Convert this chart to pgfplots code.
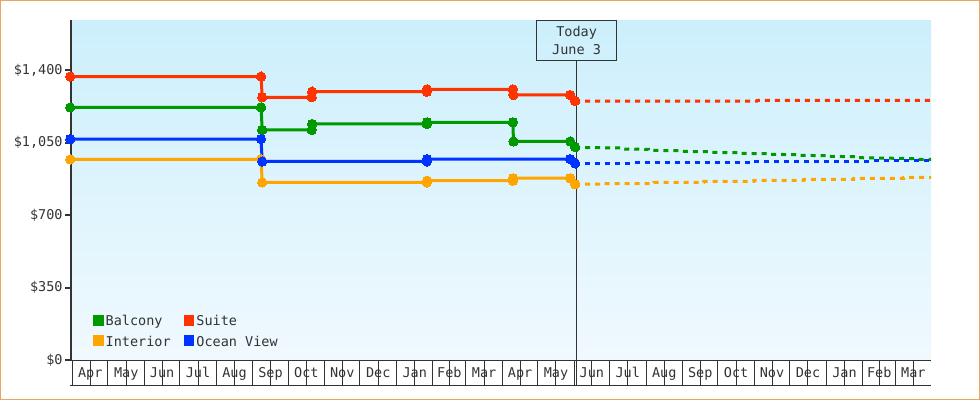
\documentclass[border=0pt]{standalone}
\usepackage{pgfplots}
\pgfplotsset{compat=1.18}
\usepackage{fontspec}
\setmainfont{DejaVu Sans Mono}
\definecolor{suite}{HTML}{FF3300}
\definecolor{balcony}{HTML}{009900}
\definecolor{ocean}{HTML}{0033FF}
\definecolor{interior}{HTML}{FFA500}
\definecolor{axisgray}{HTML}{333333}
\definecolor{bgtop}{HTML}{CCEFFC}
\definecolor{bgbot}{HTML}{F0F9FE}
\definecolor{bordercol}{HTML}{E8A65F}
\newcommand\f{\fontsize{13.5pt}{16pt}\selectfont}
\begin{document}
\begin{tikzpicture}
\useasboundingbox (0,0) rectangle (980pt,400pt);
\fill[white] (0,0) rectangle (980pt,400pt);
\draw[bordercol, line width=1pt] (0.5pt,0.5pt) rectangle (979.5pt,399.5pt);
\begin{axis}[
  at={(71pt,39.7pt)}, anchor=south west,
  scale only axis, width=860pt, height=340.3pt,
  xmin=-1.4, xmax=729, ymin=0, ymax=1643,
  clip=false,
  axis x line*=bottom, axis y line*=left,
  axis line style={-},
  x axis line style={draw=axisgray, line width=1pt},
  y axis line style={draw=axisgray, line width=2pt},
  axis background/.style={top color=bgtop, bottom color=bgbot},
  tick align=outside,
  xtick={0,30,61,91,122,153,183,214,244,275,306,334,365,395,426,456,487,518,548,579,609,640,671,699},
  xticklabels={},
  xtick style={draw=axisgray, line width=1pt, /pgfplots/major tick length=24.7pt},
  extra x ticks={15,45.5,76,106.5,137.5,168,198.5,229,259.5,290.5,320,349.5,380,410.5,441,471.5,502.5,533,563.5,594,624.5,655.5,685,714},
  extra x tick labels={Apr,May,Jun,Jul,Aug,Sep,Oct,Nov,Dec,Jan,Feb,Mar,Apr,May,Jun,Jul,Aug,Sep,Oct,Nov,Dec,Jan,Feb,Mar},
  extra x tick style={tick style={draw=none}, /pgfplots/major tick length=0pt,
     xticklabel style={anchor=base, yshift=-17.5pt, inner sep=0pt}},
  ytick={0,350,700,1050,1400},
  yticklabels={\$0,\$350,\$700,{\$1,050},{\$1,400}},
  ytick style={draw=axisgray, line width=2pt, /pgfplots/major tick length=6pt},
  yticklabel style={inner sep=0pt, xshift=-4pt},
  tick label style={font=\f, text=axisgray},
  legend columns=2,
  legend image code/.code={\fill[#1] (0pt,-3.7pt) rectangle (10.7pt,7pt);},
  legend style={draw=none, fill=none, inner sep=0pt, outer sep=0pt,
     at={(rel axis cs:0.02558,0.13312)}, anchor=north west,
     font=\f, text=axisgray, row sep=6.3pt, column sep=0pt,
     nodes={inner sep=0pt, text height=10.7pt, text depth=3pt},
     /tikz/every odd column/.append style={column sep=2pt},
     /tikz/every even column/.append style={column sep=13pt}},
  legend cell align=left,
  every axis plot/.append style={line width=3pt},
  mk/.style={mark=*, mark size=4.7pt, mark options={solid, line width=0pt}},
]
% today marker
\draw[axisgray, line width=1pt] ([yshift=-40pt]axis cs:428,1643) -- ([yshift=-24.7pt]axis cs:428,0);
\node[draw=axisgray, line width=1pt, inner sep=0pt, minimum width=79.6pt, minimum height=40pt,
      anchor=north, align=center, font=\fontsize{13.5pt}{17.6pt}\selectfont, text=axisgray]
      at (axis cs:428,1643) {Today\\June 3};
% bottom line of month cells
\draw[axisgray, line width=1pt] ([xshift=-1pt,yshift=-24.7pt]rel axis cs:0,0) -- ([yshift=-24.7pt]rel axis cs:1,0);

% forecasts (dashed)
\addplot[forget plot, interior, dash pattern=on 5pt off 5pt] coordinates {
(426.8,850)(450.9,850)(451,853)(493.4,853)(493.5,859)(535.9,859)(536,864)(578.4,864)(578.5,869)
(620.8,869)(620.9,874)(663.3,874)(663.4,878.5)(705.8,878.5)(705.9,883)(729,883)};
\addplot[forget plot, balcony, dash pattern=on 5pt off 5pt] coordinates {
(426.8,1028)(467.9,1025)(468,1020)(489,1018.5)(489.1,1013.6)(514.6,1012)(514.7,1008.8)(540,1007)(540.1,1004)
(565.6,1002.4)(565.7,999)(591,997.6)(591.1,994.4)(616.6,992.8)(616.7,989.5)(642,988)(642.1,984.7)
(667.6,983)(667.7,978.3)(717.2,973.5)(717.3,970.2)(729,970)};
\addplot[forget plot, ocean, dash pattern=on 5pt off 5pt] coordinates {
(426.8,951)(476,951)(476.5,956)(577,956)(577.5,960.5)(679,960.5)(679.5,965)(729,965)};
\addplot[forget plot, suite, dash pattern=on 5pt off 5pt] coordinates {
(426.8,1251)(581,1251)(581.5,1255)(729,1255)};

% observed prices
\addplot[forget plot, interior, mk] coordinates {
(-2,970)(160,970)(161,859)(300.8,859)(301,867)(373.9,867)(374.1,879)(422.6,879)(426.8,850)};
\addplot[forget plot, balcony, mk] coordinates {
(-2,1221)(160,1221)(161,1112)(203,1112)(203.4,1141)(300.8,1141)(301,1149)(373.9,1149)(374.4,1057)(422.6,1057)(426.8,1029)};
\addplot[forget plot, suite, mk] coordinates {
(-2,1370)(160,1370)(161,1270)(203,1270)(203.4,1297)(300.8,1297)(301,1308)(373.9,1308)(374.4,1281)(422.6,1281)(426.8,1252)};
\addplot[forget plot, ocean, mk] coordinates {
(-2,1068)(160,1068)(161,960)(300.8,960)(301,971)(422.6,971)(426.8,951)};

\addlegendimage{fill=balcony, draw=none}
\addlegendentry{Balcony}
\addlegendimage{fill=suite, draw=none}
\addlegendentry{Suite}
\addlegendimage{fill=interior, draw=none}
\addlegendentry{Interior}
\addlegendimage{fill=ocean, draw=none}
\addlegendentry{Ocean View}
\end{axis}
\end{tikzpicture}
\end{document}
